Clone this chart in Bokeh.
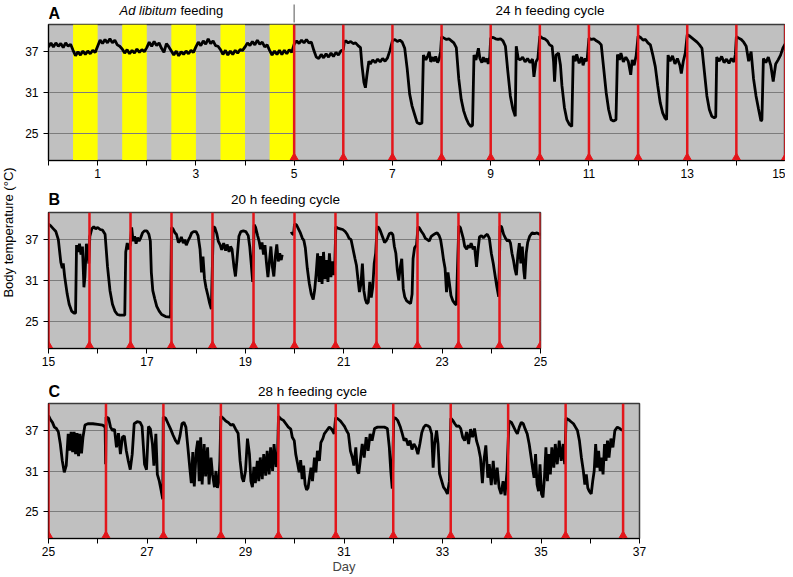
import math
import numpy as np
from bokeh.plotting import figure
from bokeh.models import Range1d, FixedTicker, Label, Span
from bokeh.layouts import row, column
from bokeh.embed import file_html
from bokeh.resources import INLINE

# ---------------- data ----------------
Y_RANGE = (21, 41)
Y_TICKS = [25, 31, 37]

A_RANGE = (0, 15)
B_RANGE = (15, 25)
C_RANGE = (25, 37)
A_TICKS = list(range(0, 16))
B_TICKS = list(range(15, 26))
C_TICKS = list(range(25, 38))
A_LABELED = [1, 3, 5, 7, 9, 11, 13, 15]
B_LABELED = [15, 17, 19, 21, 23, 25]
C_LABELED = [25, 27, 29, 31, 33, 35, 37]

# switch from ad libitum feeding to the 24 h cycle (day)
SECTION_BREAK = [5]

# light phases during ad libitum feeding (yellow)
LIGHT_START = [0.5, 1.5, 2.5, 3.5, 4.5]
LIGHT_END = [1.0, 2.0, 3.0, 4.0, 5.0]

# feeding times (days)
FEED_A = [5, 6, 7, 8, 9, 10, 11, 12, 13, 14, 15]
FEED_B = [15, 15.833, 16.667, 17.5, 18.333, 19.167, 20, 20.833, 21.667, 22.5, 23.333, 24.167, 25]
FEED_C = [25, 26.167, 27.333, 28.5, 29.667, 30.833, 32, 33.167, 34.333, 35.5, 36.667]

NAN = float("nan")

A_TRACE = [
    (0.00,37.7),(0.05,38.3),(0.10,37.7),(0.15,38.3),(0.20,37.8),(0.25,38.2),(0.30,37.6),(0.35,38.3),(0.40,37.8),(0.45,38.1),
    (0.50,37.2),(0.55,36.4),(0.60,37.0),(0.65,36.5),(0.70,37.1),(0.75,36.6),(0.80,37.1),(0.85,36.7),(0.90,37.2),(0.95,36.9),
    (1.00,37.8),(1.05,38.7),(1.10,38.2),(1.15,38.8),(1.20,38.3),(1.25,38.9),(1.30,38.3),(1.35,38.7),(1.40,38.0),(1.45,37.8),
    (1.50,37.4),(1.55,36.8),(1.60,37.3),(1.65,36.7),(1.70,37.2),(1.75,36.8),(1.80,37.4),(1.85,36.9),(1.90,37.3),(1.95,37.0),
    (2.00,37.6),(2.05,38.4),(2.10,37.8),(2.15,38.5),(2.20,37.9),(2.25,38.3),(2.30,37.5),(2.35,36.9),(2.40,38.2),(2.45,37.7),
    (2.50,37.1),(2.55,36.5),(2.60,37.1),(2.65,36.4),(2.70,37.0),(2.75,36.6),(2.80,37.1),(2.85,36.7),(2.90,37.2),(2.95,36.9),
    (3.00,37.7),(3.05,38.4),(3.10,37.9),(3.15,38.6),(3.20,38.1),(3.25,38.9),(3.30,38.2),(3.35,38.6),(3.40,37.9),(3.45,37.8),
    (3.50,37.3),(3.55,36.6),(3.60,37.2),(3.65,36.5),(3.70,37.1),(3.75,36.6),(3.80,37.2),(3.85,36.8),(3.90,37.3),(3.95,37.2),
    (4.00,37.7),(4.05,38.3),(4.10,37.9),(4.15,38.5),(4.20,38.0),(4.25,38.7),(4.30,38.1),(4.35,38.4),(4.40,37.7),(4.45,38.0),
    (4.50,37.2),(4.55,36.5),(4.60,37.1),(4.65,36.6),(4.70,37.2),(4.75,36.6),(4.80,37.2),(4.85,36.7),(4.90,37.3),(4.95,36.9),
    (5.00,38.1),(5.05,38.6),(5.10,38.2),(5.15,38.7),(5.20,38.3),(5.25,38.8),(5.30,38.3),(5.35,38.4),(5.40,37.2),(5.45,36.2),
    (5.50,36.0),(5.55,36.6),(5.60,36.1),(5.65,36.7),(5.70,36.2),(5.75,36.8),(5.80,36.3),(5.85,36.9),(5.90,36.5),(5.95,37.1),(6.00,37.3),
    (6.02,38.4),(6.05,38.6),(6.10,38.3),(6.15,38.5),(6.20,38.2),(6.25,38.3),(6.30,37.9),(6.35,37.6),(6.38,35.0),(6.42,32.5),
    (6.45,31.7),(6.48,33.5),(6.52,35.6),(6.55,35.2),(6.60,35.8),(6.65,35.4),(6.70,35.9),(6.75,35.5),(6.80,36.0),(6.85,35.6),
    (6.90,36.1),(6.95,37.2),
    (7.00,38.6),(7.05,38.8),(7.10,38.5),(7.15,38.7),(7.20,38.4),(7.25,37.5),(7.30,34.5),(7.35,30.8),(7.40,29.0),(7.45,27.8),
    (7.50,26.6),(7.55,26.4),(7.60,26.5),(7.63,36.5),(7.68,35.8),(7.72,36.4),(7.75,37.0),(7.78,35.5),(7.82,36.2),(7.85,35.6),
    (7.88,36.3),(7.92,35.4),(7.95,35.9),(7.98,37.0),
    (8.00,39.2),(8.05,39.0),(8.10,38.8),(8.15,38.9),(8.20,38.6),(8.25,38.3),(8.30,37.6),(8.35,33.0),(8.40,30.0),(8.45,28.3),
    (8.50,27.2),(8.55,26.4),(8.60,26.0),(8.63,26.2),(8.66,36.5),(8.70,35.8),(8.75,37.5),(8.78,36.0),(8.82,35.4),(8.85,36.2),
    (8.88,35.5),(8.92,36.0),(8.95,35.2),(8.98,36.2),
    (9.00,39.0),(9.05,39.1),(9.10,38.9),(9.15,38.8),(9.20,38.9),(9.25,38.6),(9.30,37.8),(9.35,34.0),(9.40,30.5),(9.45,28.6),
    (9.50,27.5),(9.52,37.8),(9.56,36.0),(9.60,35.8),(9.65,36.2),(9.70,35.5),(9.75,36.0),(9.80,35.4),(9.85,35.9),(9.88,33.3),
    (9.92,35.5),(9.96,36.0),
    (10.00,39.3),(10.05,39.0),(10.10,38.9),(10.15,38.6),(10.20,38.0),(10.25,37.8),(10.28,35.5),(10.30,32.6),(10.33,36.5),
    (10.38,36.8),(10.42,35.0),(10.45,32.0),(10.50,28.8),(10.55,27.0),(10.60,26.3),(10.65,26.0),(10.68,36.4),(10.72,35.6),
    (10.75,36.6),(10.80,35.3),(10.85,36.2),(10.88,35.0),(10.92,36.0),(10.96,35.6),
    (11.00,39.0),(11.05,38.8),(11.10,38.9),(11.15,38.6),(11.20,38.4),(11.25,38.0),(11.30,34.5),(11.35,31.0),(11.40,28.5),
    (11.45,27.0),(11.50,26.8),(11.55,27.0),(11.58,36.6),(11.62,35.8),(11.65,36.8),(11.70,35.5),(11.75,36.2),(11.80,35.6),
    (11.85,33.6),(11.88,35.8),(11.92,35.0),(11.96,36.4),
    (12.00,39.3),(12.05,39.1),(12.10,38.7),(12.15,38.8),(12.20,38.3),(12.25,38.0),(12.30,36.5),(12.35,34.8),(12.40,32.0),
    (12.45,29.5),(12.50,28.0),(12.55,27.2),(12.58,27.0),(12.61,36.5),(12.65,35.6),(12.70,36.4),(12.75,35.2),(12.80,36.0),
    (12.85,35.0),(12.88,33.8),(12.92,35.6),(12.96,36.8),
    (13.00,39.5),(13.05,39.3),(13.10,39.0),(13.15,38.7),(13.20,38.4),(13.25,38.0),(13.30,37.5),(13.35,34.0),(13.40,30.5),
    (13.45,28.5),(13.50,27.5),(13.55,27.3),(13.58,27.4),(13.60,36.2),(13.65,35.6),(13.70,36.3),(13.75,35.4),(13.80,35.9),
    (13.85,35.3),(13.90,36.0),(13.95,35.5),(13.98,36.6),
    (14.00,39.2),(14.05,39.0),(14.10,38.8),(14.15,38.4),(14.20,37.8),(14.25,35.6),(14.30,37.0),(14.35,33.0),(14.40,30.5),
    (14.45,28.6),(14.50,26.8),(14.52,27.0),(14.55,36.0),(14.60,35.4),(14.65,36.2),(14.70,35.0),(14.75,32.6),(14.80,35.2),
    (14.85,35.8),(14.90,36.5),(14.95,37.6),(15.00,38.2),
]

B_TRACE = [
    (15.00,39.3),(15.05,39.0),(15.10,38.6),(15.15,38.2),(15.20,37.0),(15.25,33.7),(15.28,32.8),(15.30,33.5),(15.33,31.5),
    (15.38,29.0),(15.42,27.5),(15.47,26.5),(15.52,26.2),(15.55,26.2),(15.57,36.2),(15.60,35.2),(15.63,36.4),(15.66,34.8),
    (15.69,36.0),(15.72,30.0),(15.74,31.5),(15.77,36.4),(15.80,35.0),(15.82,33.5),
    (15.84,37.5),(15.88,38.6),(15.92,38.9),(15.96,38.6),(16.00,38.8),(16.05,38.5),(16.10,38.4),(16.15,37.8),(16.20,33.0),
    (16.25,29.5),(16.30,27.5),(16.35,26.5),(16.40,26.0),(16.45,25.9),(16.50,25.9),(16.55,25.9),(16.57,35.2),(16.60,36.5),
    (16.63,35.6),(16.66,36.2),
    (16.69,38.8),(16.72,36.8),(16.75,37.5),(16.78,36.4),(16.81,37.3),(16.84,36.8),(16.87,37.2),(16.91,38.0),(16.95,38.3),
    (17.00,38.3),(17.04,37.8),(17.07,36.8),(17.09,32.2),(17.12,29.5),(17.16,28.3),(17.20,27.2),(17.25,26.5),(17.30,26.0),
    (17.38,25.7),(17.48,25.6),
    (17.50,38.8),(17.53,38.6),(17.57,38.0),(17.60,37.8),(17.64,36.6),(17.67,36.8),(17.70,37.4),(17.74,36.5),(17.77,37.0),
    (17.80,36.2),(17.84,36.9),(17.87,37.3),(17.91,38.0),(17.95,38.2),(18.00,38.2),(18.04,37.6),(18.08,35.6),(18.11,32.2),
    (18.14,34.5),(18.17,31.3),(18.20,30.0),(18.24,28.8),(18.27,27.8),(18.31,26.8),
    (18.35,38.9),(18.38,38.8),(18.42,37.9),(18.45,36.8),(18.49,36.2),(18.52,35.5),(18.56,36.5),(18.60,35.4),(18.63,36.3),
    (18.67,35.2),(18.70,36.0),(18.73,35.6),(18.77,33.0),(18.80,31.6),(18.83,34.0),(18.87,37.5),(18.91,38.2),(18.96,38.3),
    (19.01,38.2),(19.06,37.6),(19.09,36.0),(19.12,33.5),(19.15,30.8),
    (19.18,39.2),(19.21,38.8),(19.25,37.6),(19.28,36.8),(19.31,35.6),(19.34,36.6),(19.37,34.8),(19.40,36.2),(19.43,33.6),
    (19.46,31.5),(19.49,33.8),(19.52,36.0),(19.55,33.0),(19.58,31.6),(19.61,34.5),(19.64,36.3),(19.67,33.8),(19.70,35.0),
    (19.73,34.0),(19.75,34.8),(19.76,NAN),(19.92,37.9),(19.95,38.0),(19.98,37.7),
    (20.00,39.3),(20.04,39.2),(20.08,38.6),(20.12,38.0),(20.16,37.2),(20.19,36.9),(20.22,35.8),(20.26,32.8),(20.30,30.6),
    (20.34,29.0),(20.38,28.2),(20.41,29.6),(20.44,32.0),(20.47,35.0),(20.50,30.8),(20.53,34.6),(20.56,30.5),(20.59,35.2),
    (20.62,31.2),(20.65,34.0),(20.68,30.8),(20.71,35.0),(20.74,31.5),(20.77,33.8),(20.80,31.8),(20.82,33.5),
    (20.84,38.9),(20.88,38.7),(20.93,38.6),(20.98,38.5),(21.03,38.2),(21.07,37.8),(21.11,37.2),(21.15,37.0),(21.19,35.6),
    (21.23,34.2),(21.26,33.2),(21.29,31.2),(21.32,29.3),(21.35,30.5),(21.38,33.5),(21.41,29.5),(21.44,28.2),(21.47,27.6),
    (21.50,27.8),(21.53,30.8),(21.56,28.5),(21.59,30.0),(21.62,33.5),(21.65,35.0),
    (21.68,38.9),(21.71,38.8),(21.74,38.4),(21.77,37.8),(21.80,37.2),(21.83,36.6),(21.86,36.8),(21.89,37.2),(21.93,37.9),
    (21.97,38.0),(22.00,37.7),(22.03,36.0),(22.06,35.0),(22.09,32.5),(22.12,31.0),(22.15,33.0),(22.18,34.2),(22.21,29.8),
    (22.24,28.6),(22.28,28.0),(22.32,27.8),(22.36,27.6),(22.39,29.0),(22.41,34.2),(22.44,35.8),(22.48,36.2),
    (22.51,38.9),(22.54,38.7),(22.58,38.2),(22.62,37.8),(22.66,37.2),(22.70,37.0),(22.74,36.8),(22.78,37.5),(22.82,37.7),
    (22.86,37.9),(22.90,38.0),(22.94,37.6),(22.97,37.0),(23.00,35.6),(23.03,34.0),(23.06,32.8),(23.09,29.3),(23.12,32.2),
    (23.15,30.5),(23.18,28.8),(23.22,28.0),(23.26,27.6),(23.29,27.4),(23.32,34.5),
    (23.34,39.0),(23.37,38.8),(23.40,38.0),(23.43,37.2),(23.46,36.0),(23.50,35.6),(23.53,36.2),(23.56,35.8),(23.59,36.5),
    (23.63,35.6),(23.66,36.0),(23.70,33.0),(23.73,35.5),(23.76,37.4),(23.80,37.6),(23.84,37.3),(23.88,37.6),(23.92,37.8),
    (23.96,37.2),(24.00,35.0),(24.04,33.5),(24.08,31.6),(24.11,30.2),(24.15,28.6),
    (24.18,39.0),(24.21,38.9),(24.25,37.8),(24.29,37.2),(24.33,36.8),(24.36,37.0),(24.39,36.5),(24.42,35.0),(24.45,34.0),
    (24.48,32.7),(24.51,31.8),(24.54,34.8),(24.57,36.5),(24.60,33.5),(24.63,36.0),(24.66,32.5),(24.68,31.2),(24.71,35.0),
    (24.74,36.6),(24.78,37.5),(24.83,38.0),(24.88,37.9),(24.93,38.0),(24.98,37.8),(25.00,37.8),
]

C_TRACE = [
    (25.00,39.2),(25.04,38.6),(25.08,38.2),(25.12,37.5),(25.16,37.3),(25.20,36.8),(25.24,35.0),(25.28,32.5),(25.32,30.8),
    (25.36,31.8),(25.40,36.5),(25.43,34.0),(25.46,36.8),(25.49,33.8),(25.52,36.8),(25.55,33.5),(25.58,36.6),(25.61,33.2),
    (25.64,36.5),(25.67,33.6),(25.70,36.0),(25.74,37.8),(25.80,38.0),(25.90,38.0),(26.00,37.9),(26.10,37.8),(26.15,37.5),
    (26.16,32.0),
    (26.17,39.0),(26.22,38.8),(26.26,37.5),(26.30,37.0),(26.34,37.2),(26.38,34.5),(26.42,36.6),(26.46,33.5),(26.50,36.0),
    (26.54,36.2),(26.58,34.0),(26.62,32.5),(26.66,31.2),(26.70,33.5),(26.74,38.0),(26.80,38.3),(26.86,38.2),(26.90,37.6),
    (26.95,32.0),(26.99,31.2),(27.03,37.6),(27.07,37.2),(27.11,35.0),(27.14,31.8),(27.18,36.5),(27.21,30.5),(27.25,29.5),
    (27.29,28.0),(27.32,26.8),
    (27.33,39.0),(27.38,38.8),(27.43,38.0),(27.48,37.2),(27.53,36.3),(27.58,35.5),(27.63,35.0),(27.67,36.2),(27.71,38.0),
    (27.75,38.2),(27.79,37.5),(27.83,34.5),(27.87,31.4),(27.90,29.2),(27.93,33.8),(27.96,28.7),(28.00,34.0),(28.03,35.5),
    (28.06,29.5),(28.09,36.0),(28.12,29.0),(28.16,35.0),(28.19,30.2),(28.23,34.5),(28.26,29.0),(28.30,33.0),(28.33,30.5),
    (28.37,28.6),(28.40,31.0),(28.43,28.5),(28.46,29.5),(28.48,32.5),
    (28.50,39.1),(28.55,38.8),(28.60,38.4),(28.65,38.2),(28.70,37.8),(28.75,37.9),(28.80,37.2),(28.85,36.6),(28.89,32.5),
    (28.93,30.0),(28.96,29.4),(29.00,31.0),(29.04,35.8),(29.08,33.5),(29.11,29.5),(29.14,28.6),(29.17,31.6),(29.20,29.2),
    (29.24,32.5),(29.27,29.5),(29.30,33.0),(29.34,29.8),(29.37,33.5),(29.41,30.3),(29.44,34.0),(29.48,30.5),(29.51,34.5),
    (29.55,31.0),(29.58,35.0),(29.62,31.6),(29.65,33.0),
    (29.67,39.1),(29.72,38.7),(29.77,38.5),(29.82,38.0),(29.87,37.5),(29.92,37.2),(29.95,36.0),(29.99,35.5),(30.02,33.5),
    (30.06,32.0),(30.09,30.8),(30.12,32.6),(30.15,29.8),(30.18,31.8),(30.21,29.0),(30.24,28.2),(30.27,28.5),(30.30,30.0),
    (30.33,31.5),(30.36,29.5),(30.40,33.0),(30.43,30.8),(30.46,34.0),(30.50,32.5),(30.53,35.2),(30.57,35.8),(30.60,36.5),
    (30.65,37.0),(30.70,37.5),(30.75,37.2),(30.80,36.5),
    (30.83,38.9),(30.88,38.7),(30.93,38.4),(30.97,38.0),(31.01,37.6),(31.05,37.0),(31.09,36.5),(31.13,34.0),(31.17,33.0),
    (31.20,31.8),(31.24,34.5),(31.27,31.0),(31.30,30.6),(31.33,32.5),(31.37,35.0),(31.41,33.0),(31.45,36.0),(31.49,34.0),
    (31.53,36.5),(31.57,35.5),(31.62,37.3),(31.68,37.5),(31.75,37.5),(31.82,37.5),(31.88,37.3),(31.92,34.5),(31.95,31.0),
    (31.98,28.4),
    (32.01,38.9),(32.05,38.8),(32.09,38.5),(32.14,37.6),(32.18,36.6),(32.22,35.5),(32.26,35.8),(32.30,34.8),(32.34,35.5),
    (32.38,34.2),(32.42,35.0),(32.46,34.5),(32.50,33.5),(32.54,35.0),(32.58,36.7),(32.62,37.5),(32.66,37.8),(32.70,37.7),
    (32.74,37.5),(32.78,36.5),(32.81,31.5),(32.84,35.0),(32.88,37.0),(32.91,35.0),(32.94,30.6),(32.98,29.6),(33.02,28.6),
    (33.06,28.2),(33.10,27.6),(33.14,29.5),
    (33.17,38.8),(33.21,38.5),(33.25,38.0),(33.29,37.6),(33.33,37.7),(33.37,37.3),(33.41,36.0),(33.45,35.5),(33.49,36.8),
    (33.53,35.0),(33.57,37.2),(33.61,36.0),(33.65,37.3),(33.69,35.5),(33.73,34.5),(33.77,33.0),(33.81,29.2),(33.84,32.5),
    (33.88,34.8),(33.92,30.0),(33.95,32.0),(33.99,28.9),(34.03,32.5),(34.07,29.0),(34.11,31.5),(34.15,28.5),(34.19,27.6),
    (34.23,29.5),(34.27,27.4),(34.31,31.0),
    (34.35,38.4),(34.40,38.2),(34.44,37.6),(34.48,37.0),(34.52,36.5),(34.56,37.5),(34.60,38.2),(34.64,38.0),(34.68,37.2),
    (34.72,36.5),(34.76,35.0),(34.80,33.0),(34.83,31.4),(34.86,30.0),(34.89,33.5),(34.92,29.0),(34.95,28.0),(34.98,32.0),
    (35.01,27.6),(35.04,27.1),(35.07,30.0),(35.10,34.5),(35.13,29.5),(35.16,33.5),(35.19,30.5),(35.22,34.5),(35.26,31.5),
    (35.29,35.0),(35.33,32.0),(35.37,35.5),(35.41,32.5),(35.45,35.0),(35.48,32.0),
    (35.51,38.8),(35.56,38.6),(35.61,38.3),(35.66,38.0),(35.70,37.5),(35.74,37.0),(35.78,35.5),(35.82,33.0),(35.86,31.0),
    (35.89,29.0),(35.92,30.5),(35.95,28.5),(35.98,28.0),(36.02,27.6),(36.05,29.5),(36.08,31.0),(36.11,35.0),(36.14,31.5),
    (36.17,34.0),(36.20,31.0),(36.23,33.0),(36.26,30.5),(36.29,35.0),(36.32,32.5),(36.35,35.5),(36.38,33.0),(36.42,35.8),
    (36.46,34.5),(36.50,37.0),(36.55,37.5),(36.60,37.3),(36.65,37.0),
]

# ---------------- style ----------------
FONT = "Liberation Sans"
BG = "#c0c0c0"
RED = "#e3161b"
GRID = "#7c7c7c"
LEFT_W = 22  # width of the strip holding the shared y label


def panel(xr, ticks, labeled, trace, feeds, fw, fh, bl, bt, bb, br):
    p = figure(frame_width=fw, frame_height=fh, x_range=xr, y_range=Range1d(*Y_RANGE),
               output_backend="svg", toolbar_location=None,
               min_border_left=bl, min_border_top=bt, min_border_bottom=bb, min_border_right=br,
               background_fill_color=BG, border_fill_color="white",
               outline_line_color="#3a3a3a", outline_line_width=1.5)
    p.xgrid.visible = False
    p.ygrid.ticker = FixedTicker(ticks=Y_TICKS)
    p.ygrid.grid_line_color = GRID
    p.ygrid.grid_line_width = 1

    xa = p.xaxis[0]
    xa.ticker = FixedTicker(ticks=ticks)
    xa.major_label_overrides = {t: (str(t) if t in labeled else "") for t in ticks}
    ya = p.yaxis[0]
    ya.ticker = FixedTicker(ticks=Y_TICKS)
    for ax in (xa, ya):
        ax.major_tick_in = 0
        ax.major_tick_out = 5
        ax.minor_tick_line_color = None
        ax.axis_line_color = "black"
        ax.axis_line_width = 1
        ax.major_tick_line_color = "black"
        ax.major_label_text_font = FONT
        ax.major_label_text_font_size = "12px"
        ax.major_label_text_color = "black"
    xa.major_label_standoff = 3
    ya.major_label_standoff = 5

    days = np.array([d for d, _ in trace], dtype=float)
    temps = np.array([t for _, t in trace], dtype=float)
    p.line(x=days, y=temps, line_color="black", line_width=2.8)

    for f in feeds:
        p.add_layout(Span(location=f, dimension="height", line_color=RED, line_width=2.5))
    p.scatter(x=feeds, y=[Y_RANGE[0]] * len(feeds), marker="triangle", size=13,
              fill_color=RED, line_color=RED)
    return p


def header(xr, fw, fh, bl, br):
    h = figure(frame_width=fw, frame_height=fh, x_range=xr, y_range=Range1d(0, fh),
               x_axis_type=None, y_axis_type=None, output_backend="svg", toolbar_location=None,
               min_border_left=bl, min_border_right=br, min_border_top=0, min_border_bottom=0,
               outline_line_color=None, background_fill_color="white", border_fill_color="white")
    h.xgrid.visible = False
    h.ygrid.visible = False
    return h


def lab(p, text, x, y, size="13px", style="normal", align="left"):
    p.add_layout(Label(x=x, y=y, x_units="screen", y_units="screen", text=text,
                       text_font=FONT, text_font_size=size, text_font_style=style,
                       text_align=align, text_baseline="middle", text_color="black"))


xA = Range1d(*A_RANGE)
xB = Range1d(*B_RANGE)
xC = Range1d(*C_RANGE)

# Panel A
hA = header(xA, 737, 23, 26, 0)
hA.segment(x0=SECTION_BREAK, y0=[1], x1=SECTION_BREAK, y1=[19], line_color="#8c8c8c", line_width=1.5)
lab(hA, "A", 0, 10.5, size="16px", style="bold")
lab(hA, "Ad libitum", 71, 13.25, style="italic")
lab(hA, "feeding", 132, 13.25)
lab(hA, "24 h feeding cycle", 501.5, 13.25, size="13.5px", align="center")

pA = panel(xA, A_TICKS, A_LABELED, A_TRACE, FEED_A, 737, 136, 26, 1, 26, 0)
pA.quad(left=LIGHT_START, right=LIGHT_END, bottom=Y_RANGE[0], top=Y_RANGE[1],
        fill_color="#ffff00", line_color=None, level="underlay")

# Panel B
hB = header(xB, 492, 25, 25, 10)
lab(hB, "B", 0, 12.5, size="16px", style="bold")
lab(hB, "20 h feeding cycle", 237, 12.25, size="13.5px", align="center")
pB = panel(xB, B_TICKS, B_LABELED, B_TRACE, FEED_B, 492, 136, 25, 1, 30, 10)

# Panel C
hC = header(xC, 591, 24, 24, 10)
lab(hC, "C", 0, 11, size="16px", style="bold")
lab(hC, "28 h feeding cycle", 264, 11.25, size="13.5px", align="center")
pC = panel(xC, C_TICKS, C_LABELED, C_TRACE, FEED_C, 591, 135, 24, 1, 36, 10)
pC.xaxis[0].axis_label = "Day"
pC.xaxis[0].axis_label_text_font = FONT
pC.xaxis[0].axis_label_text_font_size = "13px"
pC.xaxis[0].axis_label_text_font_style = "normal"
pC.xaxis[0].axis_label_standoff = 0

# shared y label strip
TOTAL_H = 574
pY = figure(frame_width=LEFT_W, frame_height=TOTAL_H, x_axis_type=None, y_axis_type=None,
            output_backend="svg", toolbar_location=None, min_border=0,
            outline_line_color=None, background_fill_color="white", border_fill_color="white")
pY.xgrid.visible = False
pY.ygrid.visible = False
pY.add_layout(Label(x=8, y=TOTAL_H - 232, x_units="screen", y_units="screen",
                    text="Body temperature (°C)", angle=math.pi / 2,
                    text_align="center", text_baseline="middle",
                    text_font=FONT, text_font_size="13px", text_color="black"))

layout = row(pY, column(hA, pA, hB, pB, hC, pC))
open("out.html", "w").write(file_html(layout, INLINE))
